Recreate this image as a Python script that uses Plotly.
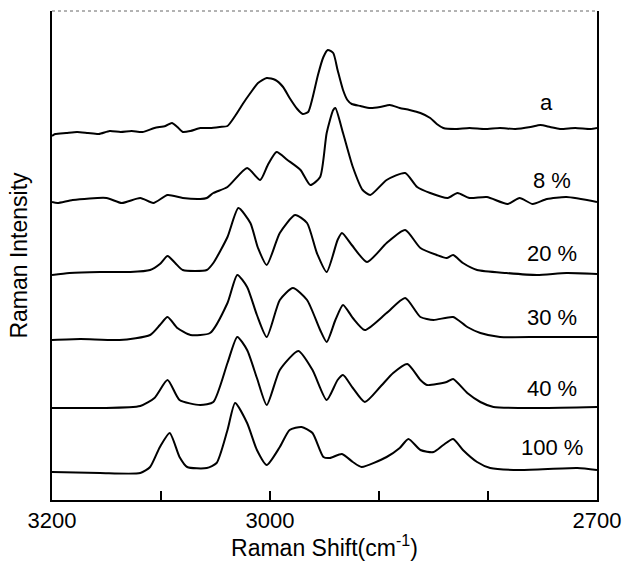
import plotly.graph_objects as go

# Stacked Raman spectra: wavenumber (cm-1) and intensity above each baseline (a.u.)
labels = ["a", "8 %", "20 %", "30 %", "40 %", "100 %"]
offsets = [367, 300, 227, 160, 92, 28]

wn_a = [3200, 3197, 3187, 3177, 3167, 3157, 3147, 3137, 3127, 3117, 3106, 3096, 3090, 3085, 3080,
        3073, 3064, 3055, 3046, 3039, 3032, 3025, 3018, 3011, 3003, 2995, 2988, 2982, 2975, 2970,
        2965, 2961, 2956, 2951, 2947, 2942, 2938, 2933, 2929, 2925, 2917, 2908, 2899, 2890, 2881,
        2872, 2862, 2853, 2847, 2841, 2830, 2817, 2803, 2789, 2775, 2761, 2752, 2743, 2734, 2720,
        2706, 2700]
int_a = [-3, -1, 0, 1, 0, -1, 2, 1, 2, 1, 5, 7, 10, 6, 1,
         2, 5, 5, 6, 7, 17, 29, 40, 50, 55, 53, 46, 35, 24, 19,
         21, 35, 58, 76, 83, 80, 63, 43, 33, 29, 27, 25, 26, 28, 25,
         23, 20, 15, 9, 5, 4, 5, 4, 5, 4, 6, 8, 6, 4, 5,
         4, 5]

wn_8 = [3200, 3195, 3181, 3150, 3136, 3119, 3107, 3094, 3080, 3064, 3058, 3052, 3039, 3021, 3009,
        3002, 2994, 2984, 2972, 2963, 2954, 2948, 2942, 2940, 2933, 2924, 2915, 2908, 2893, 2876,
        2865, 2853, 2837, 2828, 2817, 2801, 2782, 2771, 2759, 2746, 2728, 2700]
int_8 = [-2, -3, 0, 2, -3, 2, -3, 5, 2, 1, 2, 7, 13, 32, 20,
         35, 48, 40, 30, 15, 23, 67, 90, 92, 67, 33, 10, 5, 20, 27,
         13, 7, 2, 7, 2, 3, -4, 2, -4, 1, 3, -2]

wn_20 = [3200, 3184, 3156, 3128, 3110, 3101, 3094, 3087, 3080, 3058, 3052, 3039, 3029, 3018, 3011,
         3003, 2991, 2977, 2966, 2957, 2948, 2938, 2934, 2925, 2911, 2893, 2876, 2862, 2847, 2838,
         2832, 2823, 2810, 2783, 2755, 2728, 2700]
int_20 = [-2, 0, 1, 1, 3, 9, 17, 10, 3, 3, 10, 36, 65, 50, 25,
          8, 40, 58, 50, 20, 1, 33, 40, 28, 11, 30, 43, 25, 18, 15,
          18, 10, 3, 0, -2, 0, -1]

wn_30 = [3200, 3174, 3138, 3110, 3101, 3094, 3085, 3073, 3055, 3039, 3030, 3021, 3012, 3003, 2991,
         2979, 2966, 2954, 2948, 2940, 2933, 2924, 2913, 2893, 2876, 2862, 2850, 2832, 2819, 2807,
         2789, 2752, 2700]
int_30 = [0, 1, 0, 5, 15, 23, 12, 5, 7, 37, 65, 53, 25, 3, 40,
          52, 40, 10, -2, 20, 35, 22, 10, 27, 42, 23, 20, 23, 13, 7,
          3, 3, 3]

wn_40 = [3200, 3156, 3119, 3106, 3094, 3083, 3064, 3052, 3039, 3030, 3021, 3012, 3003, 2991, 2974,
         2961, 2948, 2938, 2933, 2924, 2913, 2899, 2887, 2874, 2862, 2856, 2838, 2832, 2819, 2807,
         2795, 2752, 2700]
int_40 = [0, 0, 2, 10, 28, 8, 3, 6, 45, 71, 58, 30, 3, 38, 57,
          38, 8, 28, 33, 20, 6, 21, 35, 44, 28, 23, 26, 29, 15, 6,
          1, 0, 1]

wn_100 = [3200, 3156, 3119, 3110, 3101, 3092, 3083, 3076, 3058, 3049, 3039, 3032, 3021, 3012, 3003,
          2991, 2982, 2971, 2961, 2951, 2945, 2934, 2924, 2916, 2893, 2881, 2873, 2862, 2850, 2841,
          2832, 2823, 2810, 2798, 2771, 2718, 2700]
int_100 = [0, -1, -1, 5, 25, 39, 15, 5, 4, 9, 42, 69, 49, 22, 7,
           25, 42, 45, 39, 15, 14, 18, 10, 5, 15, 24, 33, 22, 20, 27,
           33, 22, 10, 4, 2, 4, 2]

spectra_wn = [wn_a, wn_8, wn_20, wn_30, wn_40, wn_100]
spectra_int = [int_a, int_8, int_20, int_30, int_40, int_100]

label_x = [2746, 2741, 2741, 2741, 2741, 2741]
label_y = [398, 320, 247, 183, 112, 53]

major_ticks = [3200, 3000, 2700]
minor_ticks = [3100, 2900, 2800]

FONT = "Liberation Sans, Arial, sans-serif"

fig = go.Figure()
for wn, inten, off in zip(spectra_wn, spectra_int, offsets):
    fig.add_trace(go.Scatter(
        x=wn, y=[v + off for v in inten], mode="lines",
        line=dict(color="black", width=2, shape="spline", smoothing=0.6),
        showlegend=False, hoverinfo="skip"))

for lab, lx, ly in zip(labels, label_x, label_y):
    fig.add_annotation(x=lx, y=ly, text=lab, showarrow=False,
                       font=dict(family=FONT, size=22, color="black"),
                       xanchor="center", yanchor="middle")

# thin dotted top frame
fig.add_shape(type="line", xref="paper", yref="paper", x0=0, x1=1, y0=1, y1=1,
              line=dict(color="#666666", width=1, dash="dot"))

fig.update_layout(
    width=625, height=561,
    margin=dict(l=52, r=28, t=11, b=61, autoexpand=False),
    paper_bgcolor="white", plot_bgcolor="white",
    font=dict(family=FONT, size=22, color="black"),
    xaxis=dict(
        range=[3200, 2700], showgrid=False, zeroline=False,
        showline=True, linecolor="black", linewidth=2,
        ticks="inside", ticklen=9, tickwidth=2, tickcolor="black",
        tickmode="array", tickvals=major_ticks,
        minor=dict(tickmode="array", tickvals=minor_ticks, ticks="inside",
                   ticklen=9, tickwidth=2, tickcolor="black", showgrid=False),
        tickfont=dict(family=FONT, size=22, color="black"),
        automargin=False,
        title=dict(text="Raman Shift(cm<sup>-1</sup>)",
                   font=dict(family=FONT, size=23, color="black"), standoff=0),
    ),
    yaxis=dict(
        range=[0, 489], showgrid=False, zeroline=False,
        showline=True, linecolor="black", linewidth=2, mirror=True,
        showticklabels=False, ticks="", automargin=False,
        title=dict(text="Raman Intensity",
                   font=dict(family=FONT, size=23, color="black"), standoff=16),
    ),
)

fig.write_html("out.html", config={"displayModeBar": False},
               post_script="document.body.style.margin='0';document.body.style.overflow='hidden';")
